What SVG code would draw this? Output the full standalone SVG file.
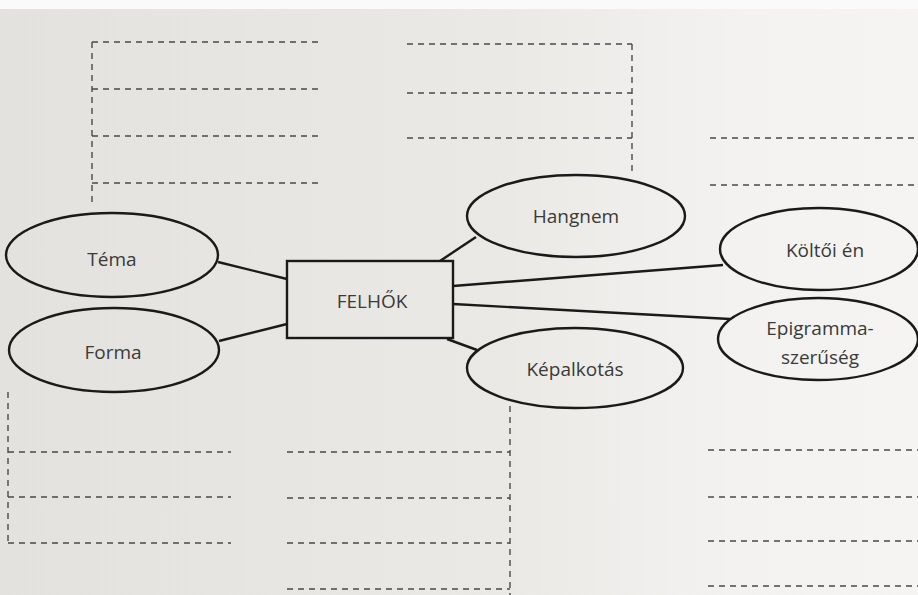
<svg xmlns="http://www.w3.org/2000/svg" width="918" height="595" viewBox="0 0 918 595">
<defs>
<linearGradient id="bg" x1="0" y1="0" x2="1" y2="0">
<stop offset="0" stop-color="#e4e2df"/>
<stop offset="0.55" stop-color="#ebe9e6"/>
<stop offset="0.8" stop-color="#f3f2f0"/>
<stop offset="1" stop-color="#f5f4f2"/>
</linearGradient>
<style>
.dash{stroke:#4a4a4a;stroke-width:1.4;stroke-dasharray:6 5;fill:none}
.ell{fill:none;stroke:#1a1a1a;stroke-width:2.4}
.box{fill:none;stroke:#1a1a1a;stroke-width:2.4}
.con{stroke:#1a1a1a;stroke-width:2.4;fill:none}
.lbl{font-family:"Open Sans","Liberation Sans",sans-serif;font-size:19px;fill:#3a3a3a;text-anchor:middle}
</style>
</defs>
<rect width="918" height="595" fill="url(#bg)"/>
<rect width="918" height="9" fill="#fafafa"/>
<g id="blanks">
<path class="dash" d="M92 42H323M92 89H323M92 136H323M92 183H323M92 42V205"/>
<path class="dash" d="M407 44H632M407 93H632M407 138H632M632 44V175"/>
<path class="dash" d="M710 138H918M710 185H918"/>
<path class="dash" d="M8 452H231M8 497H231M8 543H231M8 392V543"/>
<path class="dash" d="M287 452H510M287 498H510M287 543H510M287 589H510M510 406V595"/>
<path class="dash" d="M708 450H918M708 497H918M708 541H918M708 586H918"/>
</g>
<g id="connectors">
<line class="con" x1="218" y1="262" x2="287" y2="279"/>
<line class="con" x1="219" y1="341" x2="287" y2="324"/>
<line class="con" x1="440" y1="261" x2="476" y2="237"/>
<line class="con" x1="453" y1="286" x2="723" y2="265"/>
<line class="con" x1="453" y1="304" x2="730" y2="319"/>
<line class="con" x1="447" y1="339" x2="477" y2="350"/>
</g>
<g id="felhok">
<rect class="box" x="287" y="261" width="166" height="77"/>
<text class="lbl" x="372" y="308">FELHŐK</text>
</g>
<g id="tema">
<ellipse class="ell" cx="112" cy="255" rx="106" ry="42"/>
<text class="lbl" x="112" y="266">Téma</text>
</g>
<g id="forma">
<ellipse class="ell" cx="114" cy="350" rx="105" ry="42"/>
<text class="lbl" x="113" y="359">Forma</text>
</g>
<g id="hangnem">
<ellipse class="ell" cx="576" cy="216" rx="109" ry="41"/>
<text class="lbl" x="576" y="223">Hangnem</text>
</g>
<g id="kepalkotas">
<ellipse class="ell" cx="575" cy="368" rx="108" ry="40"/>
<text class="lbl" x="575" y="376">Képalkotás</text>
</g>
<g id="koltoi">
<ellipse class="ell" cx="819" cy="249" rx="99" ry="41"/>
<text class="lbl" x="825" y="257">Költői én</text>
</g>
<g id="epigramma">
<ellipse class="ell" cx="818" cy="339" rx="100" ry="41"/>
<text class="lbl" x="820" y="335">Epigramma-</text>
<text class="lbl" x="820" y="364">szerűség</text>
</g>
</svg>
